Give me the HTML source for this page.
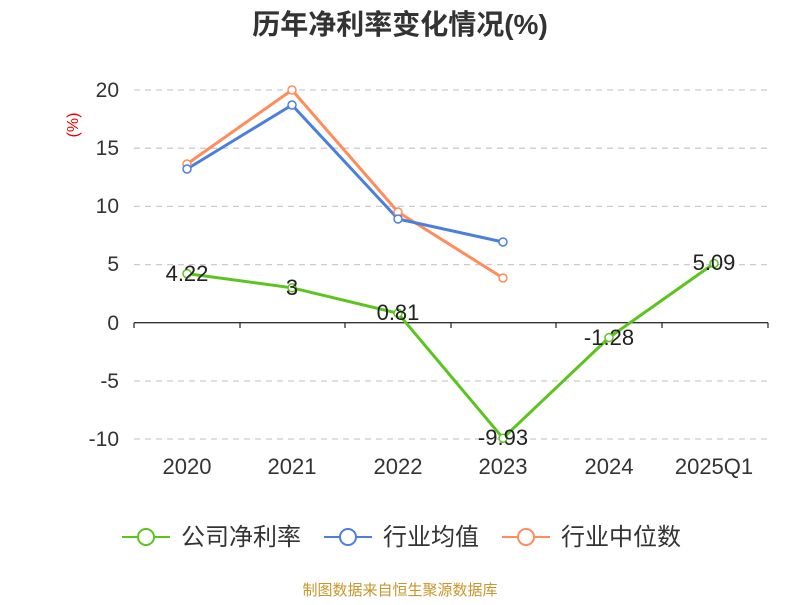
<!DOCTYPE html>
<html><head><meta charset="utf-8"><style>
body{margin:0;background:#fff;}
text{font-family:"Liberation Sans","Noto Sans CJK SC",sans-serif;}
</style></head><body>
<svg width="800" height="600" viewBox="0 0 800 600" xmlns="http://www.w3.org/2000/svg">
<text x="400" y="34" text-anchor="middle" font-size="28" font-weight="bold" fill="#333">历年净利率变化情况(%)</text>
<g stroke="#ccc" stroke-dasharray="6,5" stroke-width="1.3">
<line x1="134" x2="768" y1="90" y2="90"/>
<line x1="134" x2="768" y1="148.2" y2="148.2"/>
<line x1="134" x2="768" y1="206.4" y2="206.4"/>
<line x1="134" x2="768" y1="264.6" y2="264.6"/>
<line x1="134" x2="768" y1="381" y2="381"/>
<line x1="134" x2="768" y1="439" y2="439"/>
</g>
<line x1="134" x2="768" y1="322.7" y2="322.7" stroke="#333" stroke-width="1.3"/>
<g stroke="#333" stroke-width="1.3">
<line x1="134" x2="134" y1="322.7" y2="328"/><line x1="240" x2="240" y1="322.7" y2="328"/><line x1="345" x2="345" y1="322.7" y2="328"/><line x1="451" x2="451" y1="322.7" y2="328"/><line x1="556" x2="556" y1="322.7" y2="328"/><line x1="662" x2="662" y1="322.7" y2="328"/><line x1="768" x2="768" y1="322.7" y2="328"/>
</g>
<g font-size="21" fill="#333" text-anchor="end">
<text x="119" y="97">20</text><text x="119" y="155">15</text><text x="119" y="213">10</text><text x="119" y="271">5</text><text x="119" y="330">0</text><text x="119" y="388">-5</text><text x="119" y="446">-10</text>
</g>
<text transform="translate(78,125) rotate(-90)" text-anchor="middle" font-size="16" fill="#e00">(%)</text>
<g font-size="22" fill="#333" text-anchor="middle">
<text x="187" y="474">2020</text><text x="292" y="474">2021</text><text x="398" y="474">2022</text><text x="503" y="474">2023</text><text x="609" y="474">2024</text><text x="714" y="474">2025Q1</text>
</g>
<polyline fill="none" stroke="#ff8c5a" stroke-width="3" points="187,164 292,90 398,212 503,278"/>
<polyline fill="none" stroke="#4a7fe0" stroke-width="3" points="187,169 292,105 398,219 503,242"/>
<polyline fill="none" stroke="#5cc41e" stroke-width="3" points="187,273.6 292,287.8 398,313.3 503,438.2 609,337.6 714,263.5"/>
<g fill="#fff" stroke-width="1.5">
<g stroke="#ff8c5a"><circle cx="187" cy="164" r="4"/><circle cx="292" cy="90" r="4"/><circle cx="398" cy="212" r="4"/><circle cx="503" cy="278" r="4"/></g>
<g stroke="#4a7fe0"><circle cx="187" cy="169" r="4"/><circle cx="292" cy="105" r="4"/><circle cx="398" cy="219" r="4"/><circle cx="503" cy="242" r="4"/></g>
<g stroke="#5cc41e"><circle cx="187" cy="273.6" r="4"/><circle cx="292" cy="287.8" r="4"/><circle cx="398" cy="313.3" r="4"/><circle cx="503" cy="438.2" r="4"/><circle cx="609" cy="337.6" r="4"/><circle cx="714" cy="263.5" r="4"/></g>
</g>
<g font-size="22" fill="#222" text-anchor="middle">
<text x="187" y="281">4.22</text><text x="292" y="295">3</text><text x="398" y="320">0.81</text><text x="503" y="445">-9.93</text><text x="609" y="345">-1.28</text><text x="714" y="270">5.09</text>
</g>
<g stroke-width="2" fill="#fff">
<line x1="122" x2="170" y1="537" y2="537" stroke="#5cc41e"/><circle cx="146" cy="537" r="8" stroke="#5cc41e"/>
<line x1="324" x2="372" y1="537" y2="537" stroke="#4a7fe0"/><circle cx="348" cy="537" r="8" stroke="#4a7fe0"/>
<line x1="502" x2="550" y1="537" y2="537" stroke="#ff8c5a"/><circle cx="526" cy="537" r="8" stroke="#ff8c5a"/>
</g>
<g font-size="24" fill="#333">
<text x="181" y="545">公司净利率</text><text x="383" y="545">行业均值</text><text x="561" y="545">行业中位数</text>
</g>
<text x="400" y="595" text-anchor="middle" font-size="15" fill="#c8962a">制图数据来自恒生聚源数据库</text>
</svg>
</body></html>
